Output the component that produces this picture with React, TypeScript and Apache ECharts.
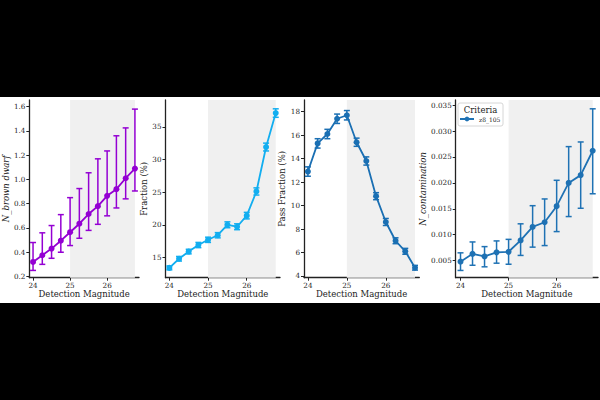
import React, { useEffect, useRef } from "react";
import * as echarts from "echarts";

const MAGS = [24, 24.25, 24.5, 24.75, 25, 25.25, 25.5, 25.75, 26, 26.25, 26.5, 26.75];
const X_TICKS = [24, 25, 26];

const BD_VAL = [0.32, 0.375, 0.43, 0.495, 0.565, 0.635, 0.715, 0.78, 0.865, 0.92, 1.01, 1.09];
const BD_LO = [0.25, 0.3, 0.35, 0.4, 0.455, 0.515, 0.58, 0.63, 0.7, 0.765, 0.84, 0.905];
const BD_HI = [0.48, 0.56, 0.62, 0.71, 0.85, 0.925, 1.055, 1.17, 1.235, 1.36, 1.425, 1.58];
const BD_TICKS = [0.2, 0.4, 0.6, 0.8, 1.0, 1.2, 1.4, 1.6];

const FR_VAL = [13.4, 14.8, 15.9, 16.9, 17.7, 18.4, 20.0, 19.7, 21.4, 25.1, 31.9, 37.1];
const FR_LO = [13.1, 14.45, 15.55, 16.5, 17.3, 18.0, 19.55, 19.25, 20.9, 24.55, 31.3, 36.45];
const FR_HI = [13.7, 15.15, 16.25, 17.3, 18.1, 18.8, 20.45, 20.15, 21.9, 25.65, 32.5, 37.75];
const FR_TICKS = [15, 20, 25, 30, 35];

const PF_VAL = [12.9, 15.3, 16.1, 17.4, 17.7, 15.4, 13.8, 10.8, 8.6, 7.0, 6.1, 4.7];
const PF_LO = [12.5, 14.9, 15.7, 17.0, 17.3, 15.05, 13.45, 10.5, 8.3, 6.75, 5.85, 4.5];
const PF_HI = [13.3, 15.7, 16.5, 17.8, 18.1, 15.75, 14.15, 11.1, 8.9, 7.25, 6.35, 4.9];
const PF_TICKS = [4, 6, 8, 10, 12, 14, 16, 18];

const NC_VAL = [0.0048, 0.0063, 0.0058, 0.0066, 0.0067, 0.0089, 0.0115, 0.0124, 0.0155, 0.02, 0.0215, 0.0262];
const NC_LO = [0.0031, 0.0041, 0.0038, 0.0045, 0.0043, 0.006, 0.0076, 0.0079, 0.0106, 0.0135, 0.0151, 0.0179];
const NC_HI = [0.0065, 0.0086, 0.0077, 0.0088, 0.0091, 0.0121, 0.0156, 0.0169, 0.0205, 0.027, 0.0279, 0.0343];
const NC_TICKS = [0.005, 0.01, 0.015, 0.02, 0.025, 0.03, 0.035];

const SHADE_FROM = 25;
const SHADE_TO = 26.75;

const FONT = "DejaVu Serif";

export default function App() {
  const ref = useRef<HTMLDivElement>(null);
  useEffect(() => {
    if (!ref.current) return;
    const chart = echarts.init(ref.current, null, { renderer: "svg" });

    const panels = [
      { val: BD_VAL, lo: BD_LO, hi: BD_HI, ticks: BD_TICKS, min: 0.19, max: 1.655, color: "#9400d3", name: "N_brown dwarf", italic: true, dec: 1, left: 24, width: 115, nameGap: 12 },
      { val: FR_VAL, lo: FR_LO, hi: FR_HI, ticks: FR_TICKS, min: 11.9, max: 39.1, color: "#12aef0", name: "Fraction (%)", italic: false, dec: 0, left: 165.5, width: 114.5, nameGap: 13 },
      { val: PF_VAL, lo: PF_LO, hi: PF_HI, ticks: PF_TICKS, min: 3.85, max: 19.0, color: "#1a6fb3", name: "Pass Fraction (%)", italic: false, dec: 0, left: 304, width: 115.3, nameGap: 12 },
      { val: NC_VAL, lo: NC_LO, hi: NC_HI, ticks: NC_TICKS, min: 0.0017, max: 0.036, color: "#1f72b4", name: "N_contamination", italic: true, dec: 3, left: 455.7, width: 142.3, nameGap: 23 },
    ];

    const grid: any[] = [];
    const xAxis: any[] = [];
    const yAxis: any[] = [];
    const series: any[] = [];

    panels.forEach((p, i) => {
      grid.push({ left: p.left, top: 100, width: p.width, height: 177.7 });
      xAxis.push({
        type: "value",
        gridIndex: i,
        min: 23.9,
        max: 26.86,
        name: "Detection Magnitude",
        nameLocation: "middle",
        nameGap: 11,
        nameTextStyle: { fontFamily: FONT, fontSize: 8.5, color: "#222" },
        axisLine: { show: true, lineStyle: { color: "#222", width: 1.3 } },
        axisTick: { show: true, length: 3, customValues: X_TICKS, lineStyle: { color: "#222" } },
        axisLabel: { customValues: X_TICKS, margin: 4, fontFamily: FONT, fontSize: 7.2, color: "#222", formatter: (v: number) => String(v) },
        splitLine: { show: false },
      });
      yAxis.push({
        type: "value",
        gridIndex: i,
        min: p.min,
        max: p.max,
        name: p.name,
        nameLocation: "middle",
        nameGap: p.nameGap,
        nameRotate: 90,
        nameTextStyle: { fontFamily: FONT, fontSize: 8.5, color: "#222", fontStyle: p.italic ? "italic" : "normal" },
        axisLine: { show: true, lineStyle: { color: "#222", width: 1.3 } },
        axisTick: { show: true, length: 3, customValues: p.ticks, lineStyle: { color: "#222" } },
        axisLabel: { customValues: p.ticks, margin: 4, fontFamily: FONT, fontSize: 7.2, color: "#222", formatter: (v: number) => v.toFixed(p.dec) },
        splitLine: { show: false },
      });
      series.push({
        type: "line",
        name: i === 3 ? "z8_105" : "s" + i,
        xAxisIndex: i,
        yAxisIndex: i,
        data: MAGS.map((m, k) => [m, p.val[k]]),
        symbol: "circle",
        symbolSize: 6,
        lineStyle: { color: p.color, width: 1.8 },
        itemStyle: { color: p.color },
        z: 3,
        markArea: {
          silent: true,
          itemStyle: { color: "#f0f0f0" },
          data: [[{ xAxis: SHADE_FROM }, { xAxis: SHADE_TO }]],
        },
      });
      series.push({
        type: "custom",
        xAxisIndex: i,
        yAxisIndex: i,
        z: 4,
        data: MAGS.map((m, k) => [m, p.lo[k], p.hi[k]]),
        encode: { x: 0, y: [1, 2] },
        renderItem: (params: any, api: any) => {
          const x = api.value(0);
          const a = api.coord([x, api.value(1)]);
          const b = api.coord([x, api.value(2)]);
          const cw = 3;
          const st = { stroke: p.color, lineWidth: 1.5 };
          return {
            type: "group",
            children: [
              { type: "line", shape: { x1: a[0], y1: a[1], x2: b[0], y2: b[1] }, style: st },
              { type: "line", shape: { x1: a[0] - cw, y1: a[1], x2: a[0] + cw, y2: a[1] }, style: st },
              { type: "line", shape: { x1: b[0] - cw, y1: b[1], x2: b[0] + cw, y2: b[1] }, style: st },
            ],
          };
        },
      });
    });

    chart.setOption({
      animation: false,
      backgroundColor: "#000",
      grid,
      xAxis,
      yAxis,
      series,
      legend: {
        data: ["z8_105"],
        left: 459,
        top: 116,
        z: 20,
        itemWidth: 14,
        itemHeight: 6,
        itemGap: 4,
        padding: 0,
        inactiveColor: "#1f72b4",
        textStyle: { fontFamily: FONT, fontSize: 6, color: "#222" },
      },
      graphic: [
        { type: "rect", z: -10, shape: { x: 0, y: 97, width: 600, height: 206 }, style: { fill: "#fff" }, silent: true },
        { type: "rect", z: 10, shape: { x: 458, y: 103, width: 45, height: 23, r: 2 }, style: { fill: "rgba(255,255,255,0.85)", stroke: "#ccc", lineWidth: 0.8 }, silent: true },
        { type: "text", z: 11, x: 480.5, y: 110, style: { text: "Criteria", fontFamily: FONT, fontSize: 8.5, fill: "#222", align: "center", verticalAlign: "middle" }, silent: true },
      ],
    });
    return () => chart.dispose();
  }, []);
  return <div ref={ref} style={{ position: "absolute", left: 0, top: 0, width: 600, height: 400 }} />;
}
